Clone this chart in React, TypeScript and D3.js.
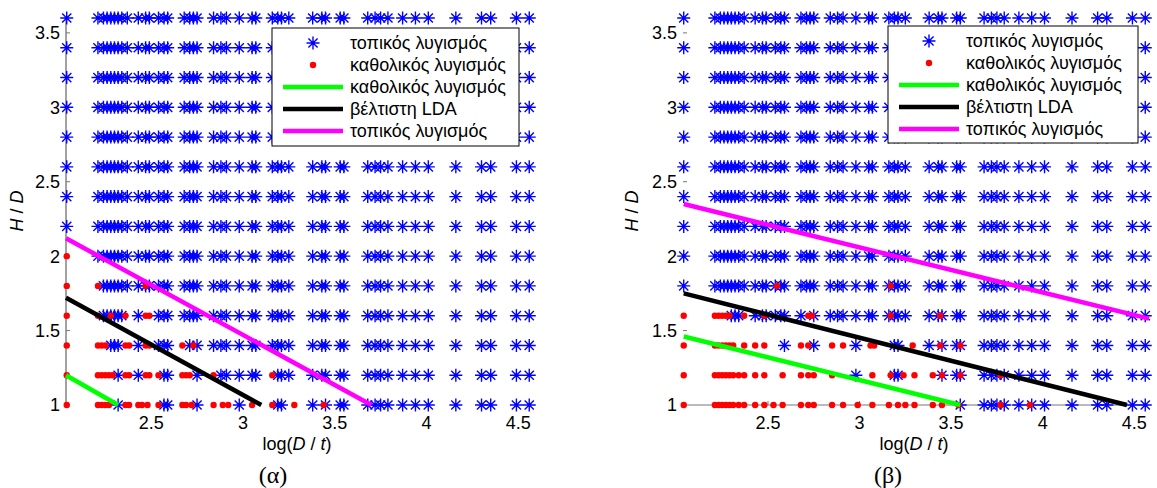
import React, { useEffect, useRef } from "react";
import * as d3 from "d3";

// log(D/t) columns of the tested cases (same in both panels)
const logDt = [
  2.04, 2.21, 2.24, 2.26, 2.28, 2.3, 2.32, 2.34, 2.37, 2.43, 2.47, 2.49, 2.54,
  2.57, 2.59, 2.68, 2.71, 2.73, 2.75, 2.84, 2.88, 2.91, 2.98, 3.05, 3.07, 3.16,
  3.19, 3.21, 3.25, 3.38, 3.43, 3.45, 3.53, 3.55, 3.68, 3.72, 3.75, 3.79, 3.87,
  3.94, 4.01, 4.16, 4.3, 4.35, 4.49, 4.56,
];
const hdLevels = [1, 1.2, 1.4, 1.6, 1.8, 2, 2.2, 2.4, 2.6, 2.8, 3, 3.2, 3.4, 3.6];
const xTicks = [2.5, 3, 3.5, 4, 4.5];
const yTicks = [1, 1.5, 2, 2.5, 3, 3.5];

// (α) global buckling points and columns without local buckling, per H/D level
const redA: Record<string, number[]> = {
  "1": [2.04, 2.21, 2.23, 2.25, 2.27, 2.36, 2.38, 2.43, 2.45, 2.48, 2.54, 2.67, 2.69, 2.72, 2.84, 2.89, 2.92, 3.05, 3.16, 3.28, 3.44],
  "1.2": [2.04, 2.21, 2.23, 2.25, 2.27, 2.29, 2.36, 2.38, 2.47, 2.49, 2.54, 2.67, 2.69, 2.71, 2.84, 3.16],
  "1.4": [2.04, 2.21, 2.23, 2.25, 2.36, 2.38, 2.47, 2.49, 2.67, 2.73],
  "1.6": [2.04, 2.21, 2.28, 2.36, 2.47, 2.49],
  "1.8": [2.04, 2.21, 2.47],
  "2": [2.04],
};
const noStarA: Record<string, number[]> = {
  "1": [2.04, 2.21, 2.24, 2.26, 2.28, 2.3, 2.34, 2.37, 2.43, 2.47, 2.49, 2.54, 2.68, 2.71, 2.73, 2.84, 2.88, 2.91, 3.05, 3.07, 3.16, 3.25, 3.43],
  "1.2": [2.04, 2.21, 2.24, 2.26, 2.28, 2.3, 2.34, 2.37, 2.47, 2.49, 2.54, 2.68, 2.71, 2.73, 2.84, 3.16],
  "1.4": [2.04, 2.21, 2.24, 2.26, 2.34, 2.37, 2.47, 2.49, 2.68, 2.73],
  "1.6": [2.04, 2.21, 2.37, 2.47, 2.49],
  "1.8": [2.04, 2.21],
  "2": [2.04],
};

// (β)
const redB: Record<string, number[]> = {
  "1": [2.04, 2.21, 2.23, 2.25, 2.27, 2.29, 2.31, 2.34, 2.37, 2.43, 2.48, 2.53, 2.58, 2.68, 2.72, 2.75, 2.85, 2.91, 2.99, 3.07, 3.16, 3.21, 3.25, 3.3, 3.4, 3.45, 3.54, 3.77, 3.93],
  "1.2": [2.04, 2.21, 2.23, 2.25, 2.27, 2.29, 2.31, 2.34, 2.37, 2.43, 2.48, 2.58, 2.68, 2.72, 2.75, 2.85, 3.07, 3.17, 3.24, 3.3, 3.4, 3.45, 3.55, 3.77],
  "1.4": [2.04, 2.21, 2.23, 2.25, 2.27, 2.29, 2.31, 2.37, 2.43, 2.48, 2.68, 2.72, 2.85, 2.91, 3.06, 3.08, 3.29, 3.44, 3.55],
  "1.6": [2.04, 2.21, 2.23, 2.25, 2.27, 2.29, 2.37, 2.48, 2.72, 2.74, 3.17, 3.44],
  "1.8": [2.55, 3.17],
};
const noStarB: Record<string, number[]> = {
  "1": [2.04, 2.21, 2.24, 2.26, 2.28, 2.3, 2.32, 2.34, 2.37, 2.43, 2.47, 2.49, 2.54, 2.57, 2.59, 2.68, 2.71, 2.73, 2.75, 2.84, 2.88, 2.91, 2.98, 3.05, 3.07, 3.16, 3.19, 3.21, 3.25, 3.38, 3.43, 3.45, 3.53],
  "1.2": [2.04, 2.21, 2.24, 2.26, 2.28, 2.3, 2.32, 2.34, 2.37, 2.43, 2.47, 2.49, 2.54, 2.57, 2.59, 2.68, 2.71, 2.73, 2.75, 2.84, 2.88, 2.91, 3.05, 3.07, 3.16, 3.25, 3.38, 3.43],
  "1.4": [2.04, 2.21, 2.24, 2.26, 2.28, 2.3, 2.32, 2.34, 2.37, 2.43, 2.47, 2.49, 2.54, 2.57, 2.68, 2.71, 2.73, 2.84, 2.88, 2.91, 3.05, 3.07, 3.16, 3.25, 3.43],
  "1.6": [2.04, 2.21, 2.24, 2.26, 2.28, 2.37, 2.71, 2.73],
};

// fitted boundary lines [logDt, H/D]
const greenA = [[2.036, 1.2], [2.32, 1.0]];
const blackA = [[2.036, 1.72], [3.1, 1.0]];
const magentaA = [[2.036, 2.12], [3.7, 1.0]];
const greenB = [[2.04, 1.46], [3.55, 1.0]];
const blackB = [[2.04, 1.75], [4.46, 1.0]];
const magentaB = [[2.04, 2.35], [4.58, 1.58]];

const legendLabels = [
  "τοπικός λυγισμός",
  "καθολικός λυγισμός",
  "καθολικός λυγισμός",
  "βέλτιστη LDA",
  "τοπικός λυγισμός",
];

const font = "'Liberation Sans', Arial, sans-serif";

const starPath = (r: number) => {
  const d = r * 0.7071;
  return `M${-r},0H${r}M0,${-r}V${r}M${-d},${-d}L${d},${d}M${-d},${d}L${d},${-d}`;
};

const App = () => {
  const ref = useRef<SVGSVGElement>(null);

  useEffect(() => {
    const svg = d3.select(ref.current);
    svg.selectAll("*").remove();

    const yScale = d3.scaleLinear().domain([1, 3.6]).range([405, 18]);

    const panels = [
      {
        range: [66, 532], red: redA, noStar: noStarA,
        lines: [greenA, blackA, magentaA], yLine: true, xLine: false,
        legend: { x: 272, y: 28, w: 247, h: 118 },
        sub: "(α)", subX: 273, xLabX: 297, yLabX: 23,
      },
      {
        range: [683, 1148], red: redB, noStar: noStarB,
        lines: [greenB, blackB, magentaB], yLine: false, xLine: true,
        legend: { x: 888, y: 26, w: 250, h: 117 },
        sub: "(β)", subX: 888, xLabX: 914, yLabX: 638,
      },
    ];
    const lineColors = ["#00ff00", "#000000", "#ff00ff"];

    panels.forEach((p) => {
      const xScale = d3.scaleLinear().domain([2.036, 4.575]).range(p.range);
      const g = svg.append("g");

      // axes
      if (p.yLine) {
        g.append("line").attr("x1", p.range[0]).attr("x2", p.range[0])
          .attr("y1", yScale(1)).attr("y2", yScale(3.6))
          .attr("stroke", "#444").attr("stroke-width", 1);
      }
      if (p.xLine) {
        g.append("line").attr("x1", p.range[0]).attr("x2", p.range[1])
          .attr("y1", yScale(1)).attr("y2", yScale(1))
          .attr("stroke", "#777").attr("stroke-width", 1);
        g.selectAll(".xt").data(xTicks).enter().append("line")
          .attr("x1", (d) => xScale(d)).attr("x2", (d) => xScale(d))
          .attr("y1", yScale(1)).attr("y2", yScale(1) - 4)
          .attr("stroke", "#777");
      }
      g.selectAll(".yt").data(yTicks).enter().append("line")
        .attr("x1", p.range[0]).attr("x2", p.range[0] + 4)
        .attr("y1", (d) => yScale(d)).attr("y2", (d) => yScale(d))
        .attr("stroke", "#777");

      // local buckling stars
      const stars: [number, number][] = [];
      hdLevels.forEach((h) => {
        const skip = p.noStar[String(h)] || [];
        logDt.forEach((x) => {
          if (!skip.includes(x)) stars.push([x, h]);
        });
      });
      g.selectAll(".star").data(stars).enter().append("path")
        .attr("d", starPath(6.5))
        .attr("transform", (d) => `translate(${xScale(d[0])},${yScale(d[1])})`)
        .attr("fill", "none").attr("stroke", "#0000ff").attr("stroke-width", 1.4);

      // global buckling dots
      const dots: [number, number][] = [];
      Object.keys(p.red).forEach((k) => {
        p.red[k].forEach((x) => dots.push([x, +k]));
      });
      g.selectAll(".dot").data(dots).enter().append("circle")
        .attr("cx", (d) => xScale(d[0])).attr("cy", (d) => yScale(d[1]))
        .attr("r", 3.2).attr("fill", "#ff0000");

      // boundary lines
      const line = d3.line<number[]>().x((d) => xScale(d[0])).y((d) => yScale(d[1]));
      p.lines.forEach((l, i) => {
        g.append("path").attr("d", line(l)).attr("fill", "none")
          .attr("stroke", lineColors[i]).attr("stroke-width", 4.5);
      });

      // tick labels
      g.selectAll(".xl").data(xTicks).enter().append("text")
        .attr("x", (d) => xScale(d)).attr("y", 429)
        .attr("text-anchor", "middle").attr("font-family", font).attr("font-size", 18)
        .text((d) => String(d));
      g.selectAll(".yl").data(yTicks).enter().append("text")
        .attr("x", p.range[0] - 6).attr("y", (d) => yScale(d)).attr("dy", "0.36em")
        .attr("text-anchor", "end").attr("font-family", font).attr("font-size", 18)
        .text((d) => String(d));

      // axis labels
      const xl = g.append("text").attr("x", p.xLabX).attr("y", 450)
        .attr("text-anchor", "middle").attr("font-family", font).attr("font-size", 18);
      xl.append("tspan").text("log(");
      xl.append("tspan").attr("font-style", "italic").text("D");
      xl.append("tspan").text(" / ");
      xl.append("tspan").attr("font-style", "italic").text("t");
      xl.append("tspan").text(")");

      const yl = g.append("text")
        .attr("transform", `translate(${p.yLabX},211) rotate(-90)`)
        .attr("text-anchor", "middle").attr("font-family", font).attr("font-size", 18);
      yl.append("tspan").attr("font-style", "italic").text("H");
      yl.append("tspan").text(" / ");
      yl.append("tspan").attr("font-style", "italic").text("D");

      g.append("text").attr("x", p.subX).attr("y", 483)
        .attr("text-anchor", "middle")
        .attr("font-family", "'Liberation Serif', 'Times New Roman', serif")
        .attr("font-size", 24).text(p.sub);

      // legend
      const lg = g.append("g").attr("transform", `translate(${p.legend.x},${p.legend.y})`);
      lg.append("rect").attr("width", p.legend.w).attr("height", p.legend.h)
        .attr("fill", "#fff").attr("stroke", "#000").attr("stroke-width", 1);
      legendLabels.forEach((lab, i) => {
        const cy = 15 + i * 22;
        if (i === 0) {
          lg.append("path").attr("d", starPath(6.5))
            .attr("transform", `translate(41,${cy})`)
            .attr("fill", "none").attr("stroke", "#0000ff").attr("stroke-width", 1.4);
        } else if (i === 1) {
          lg.append("circle").attr("cx", 41).attr("cy", cy).attr("r", 3.2).attr("fill", "#ff0000");
        } else {
          lg.append("line").attr("x1", 11).attr("x2", 71).attr("y1", cy).attr("y2", cy)
            .attr("stroke", lineColors[i - 2]).attr("stroke-width", 4.5);
        }
        lg.append("text").attr("x", 78).attr("y", cy).attr("dy", "0.36em")
          .attr("font-family", font).attr("font-size", 18).text(lab);
      });
    });
  }, []);

  return (
    <svg
      ref={ref}
      width={1157}
      height={488}
      style={{ position: "absolute", left: 0, top: 0, background: "#fff" }}
    ></svg>
  );
};

export default App;
